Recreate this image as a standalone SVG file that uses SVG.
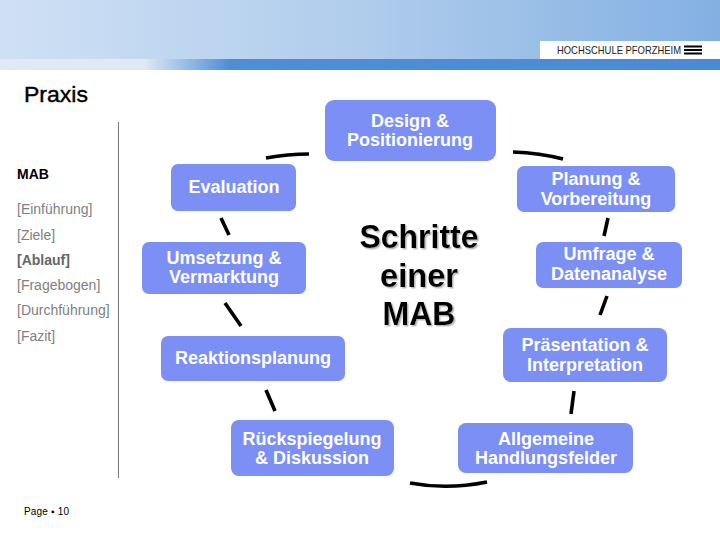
<svg xmlns="http://www.w3.org/2000/svg" width="720" height="540" viewBox="0 0 720 540">
<defs>
<linearGradient id="hdr" x1="0" y1="0" x2="1" y2="0"><stop offset="0" stop-color="#cfe0f5"/><stop offset="0.5" stop-color="#b0cdec"/><stop offset="1" stop-color="#83b0e2"/></linearGradient>
<linearGradient id="bar" x1="0" y1="0" x2="1" y2="0"><stop offset="0" stop-color="#e0e9f5"/><stop offset="0.2" stop-color="#dfe8f4"/><stop offset="0.32" stop-color="#4f8dd8"/><stop offset="1" stop-color="#4a8ad6"/></linearGradient>
<filter id="sh" x="-10%" y="-10%" width="120%" height="120%"><feDropShadow dx="1.5" dy="1.5" stdDeviation="0.5" flood-color="#aaa" flood-opacity="0.8"/></filter>
</defs>
<style>
text{font-family:"Liberation Sans",Arial,sans-serif}
.n rect{fill:#7b8ff5}
.n text{fill:#fff;font-size:18px;font-weight:bold;text-anchor:middle}
.c path{fill:none;stroke:#000;stroke-width:3.6px;stroke-linecap:butt}
.m{font-size:14px;fill:#808080}
.big{font-size:34px;font-weight:bold;text-anchor:middle;fill:#000}
</style>
<rect width="720" height="59" fill="url(#hdr)"/>
<rect y="59" width="720" height="11" fill="url(#bar)"/>
<rect x="540" y="41" width="180" height="18" fill="#fff"/>
<text x="557" y="54" font-size="10.5" fill="#222" textLength="124" lengthAdjust="spacingAndGlyphs">HOCHSCHULE PFORZHEIM</text>
<path d="M684 46.5h18M684 50h18M684 53.5h18" stroke="#000" stroke-width="2" fill="none"/>
<text x="24" y="102" font-size="22" fill="#000" style="stroke:#000;stroke-width:.4px" textLength="64" lengthAdjust="spacingAndGlyphs">Praxis</text>
<rect x="118" y="122" width="1" height="356" fill="#777"/>
<text x="17" y="179" font-size="14" font-weight="bold" fill="#000">MAB</text>
<text class="m" x="17" y="214">[Einführung]</text>
<text class="m" x="17" y="240">[Ziele]</text>
<text class="m" x="17" y="265" font-weight="bold" style="fill:#666">[Ablauf]</text>
<text class="m" x="17" y="290">[Fragebogen]</text>
<text class="m" x="17" y="315">[Durchführung]</text>
<text class="m" x="17" y="341">[Fazit]</text>
<text x="24" y="515" font-size="10" fill="#000" textLength="45">Page ▪ 10</text>
<g class="c" id="connectors">
<path d="M266 158Q288 154 309 154"/>
<path d="M513 152Q540 153 563 159"/>
<path d="M608 218L604 236"/>
<path d="M607 296L600 315"/>
<path d="M574 391L571 414"/>
<path d="M410 483Q447 490 487 482"/>
<path d="M266 390L275 411"/>
<path d="M225 303L241 326"/>
<path d="M221 218L229 235"/>
</g>
<g class="n" id="node-design"><rect x="325" y="100" width="171" height="61" rx="9"/><text x="410" y="127">Design &amp;</text><text x="410" y="146">Positionierung</text></g>
<g class="n" id="node-planung"><rect x="517" y="166" width="158" height="46" rx="7"/><text x="596" y="185">Planung &amp;</text><text x="596" y="205">Vorbereitung</text></g>
<g class="n" id="node-umfrage"><rect x="536" y="242" width="146" height="46" rx="7"/><text x="609" y="260">Umfrage &amp;</text><text x="609" y="280">Datenanalyse</text></g>
<g class="n" id="node-praesentation"><rect x="503" y="328" width="164" height="54" rx="8"/><text x="585" y="351">Präsentation &amp;</text><text x="585" y="371">Interpretation</text></g>
<g class="n" id="node-allgemeine"><rect x="458" y="423" width="175" height="50" rx="8"/><text x="546" y="445">Allgemeine</text><text x="546" y="464">Handlungsfelder</text></g>
<g class="n" id="node-rueckspiegelung"><rect x="231" y="420" width="163" height="56" rx="8"/><text x="312" y="445">Rückspiegelung</text><text x="312" y="464">&amp; Diskussion</text></g>
<g class="n" id="node-reaktion"><rect x="161" y="336" width="184" height="45" rx="7"/><text x="253" y="364">Reaktionsplanung</text></g>
<g class="n" id="node-umsetzung"><rect x="142" y="242" width="164" height="52" rx="7"/><text x="224" y="264">Umsetzung &amp;</text><text x="224" y="283">Vermarktung</text></g>
<g class="n" id="node-evaluation"><rect x="171" y="164" width="125" height="47" rx="7"/><text x="234" y="193">Evaluation</text></g>
<g id="center" filter="url(#sh)"><text class="big" x="419" y="248" textLength="119" lengthAdjust="spacingAndGlyphs">Schritte</text><text class="big" x="419" y="287" textLength="78" lengthAdjust="spacingAndGlyphs">einer</text><text class="big" x="419" y="325" textLength="73" lengthAdjust="spacingAndGlyphs">MAB</text></g>
</svg>
